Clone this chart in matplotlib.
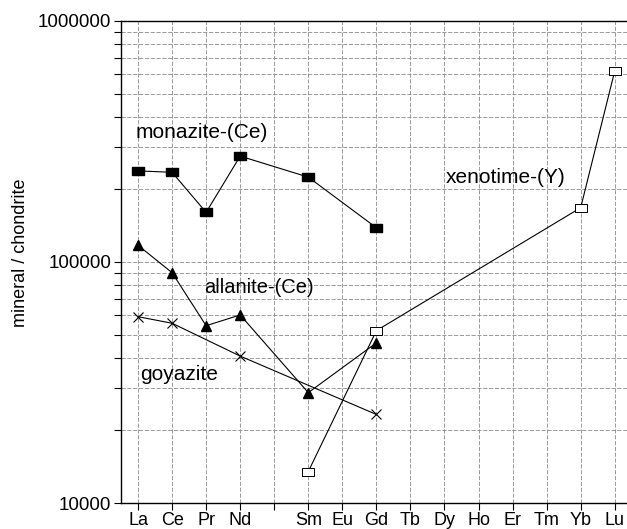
import numpy as np
import matplotlib
matplotlib.use("Agg")
import matplotlib.pyplot as plt
from matplotlib.ticker import LogLocator, NullFormatter, FixedLocator

plt.rcParams["font.family"] = ["Liberation Sans", "DejaVu Sans"]

# REE order, Pm kept as an unlabeled slot
elements = ["La", "Ce", "Pr", "Nd", "", "Sm", "Eu", "Gd", "Tb", "Dy", "Ho", "Er", "Tm", "Yb", "Lu"]

monazite_el = ["La", "Ce", "Pr", "Nd", "Sm", "Gd"]
monazite = [238800, 235600, 160700, 275000, 225000, 138700]

allanite_el = ["La", "Ce", "Pr", "Nd", "Sm", "Gd"]
allanite = [117300, 90300, 54400, 60300, 28700, 46200]

goyazite_el = ["La", "Ce", "Nd", "Gd"]
goyazite = [59300, 55700, 40700, 23300]

xenotime_el = ["Sm", "Gd", "Yb", "Lu"]
xenotime = [13500, 51900, 168000, 620000]


def xpos(names):
    return [elements.index(n) for n in names]


# flat rectangle marker, wider than tall
rect = [(-1, -0.7), (1, -0.7), (1, 0.7), (-1, 0.7), (-1, -0.7)]

fig = plt.figure(figsize=(6.27, 5.29), dpi=100)
ax = fig.add_axes([121 / 627, 1 - 503 / 529, 1 - 121 / 627, 482 / 529])

lw = 0.8
ax.plot(xpos(monazite_el), monazite, color="black", lw=lw, marker=rect,
        ms=8, mfc="black", mec="black")
ax.plot(xpos(allanite_el), allanite, color="black", lw=lw, marker="^",
        ms=6.5, mfc="black", mec="black")
ax.plot(xpos(goyazite_el), goyazite, color="black", lw=lw, marker="x",
        ms=7, mew=0.8)
ax.plot(xpos(xenotime_el), xenotime, color="black", lw=lw, marker=rect,
        ms=8, mfc="white", mec="black", mew=0.7)

ax.set_yscale("log")
ax.set_ylim(10000, 1000000)
ax.set_xlim(-0.5, 14.36)

ax.set_xticks(range(len(elements)))
ax.set_xticklabels(elements, fontsize=13)
ax.yaxis.set_major_locator(FixedLocator([1e4, 1e5, 1e6]))
ax.yaxis.set_major_formatter(plt.FuncFormatter(lambda v, p: f"{int(v)}"))
ax.yaxis.set_minor_locator(LogLocator(base=10, subs=np.arange(2, 10)))
ax.yaxis.set_minor_formatter(NullFormatter())
ax.tick_params(axis="y", which="major", labelsize=13.5, length=5, width=0.8, pad=2)
ax.tick_params(axis="y", which="minor", length=5, width=0.8)
ax.tick_params(axis="x", length=5, width=0.8, pad=1.5)

ax.grid(True, which="major", axis="both", color="#8a8a8a", ls=(0, (5, 2)), lw=0.6)
ax.grid(True, which="minor", axis="y", color="#8a8a8a", ls=(0, (5, 2)), lw=0.6)
ax.set_axisbelow(True)

for side in ["left", "bottom", "top"]:
    ax.spines[side].set_linewidth(1.0)
ax.spines["right"].set_visible(False)

ax.set_ylabel("mineral / chondrite", fontsize=13)
ax.yaxis.set_label_coords(-92 / 506, 0.519)

ax.text(-0.08, 326000, "monazite-(Ce)", fontsize=15)
ax.text(1.95, 74100, "allanite-(Ce)", fontsize=14.5)
ax.text(0.07, 32400, "goyazite", fontsize=15)
ax.text(9.05, 212000, "xenotime-(Y)", fontsize=15)

fig.savefig("out.png", dpi=100)
